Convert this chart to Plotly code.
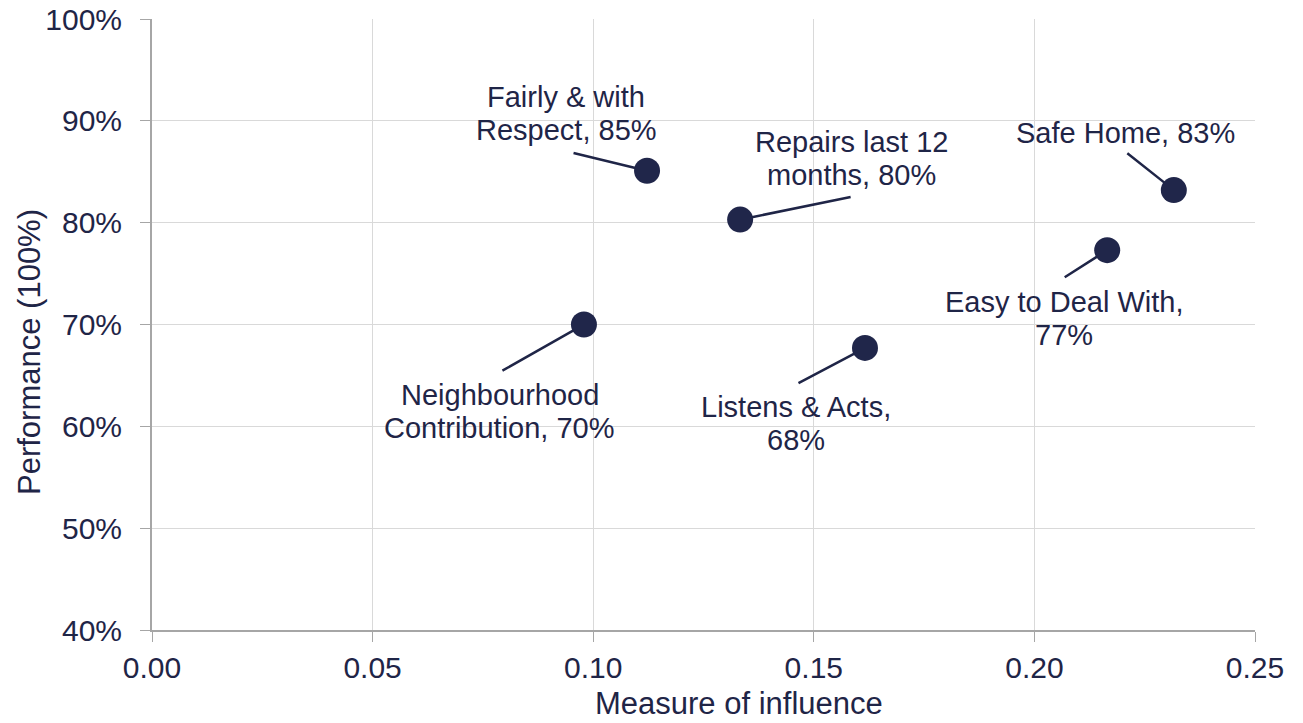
import plotly.graph_objects as go

# Data
labels = [
    ["Fairly & with", "Respect, 85%"],
    ["Repairs last 12", "months, 80%"],
    ["Safe Home, 83%"],
    ["Easy to Deal With,", "77%"],
    ["Neighbourhood", "Contribution, 70%"],
    ["Listens & Acts,", "68%"],
]
influence = [0.1122, 0.1333, 0.2316, 0.2165, 0.0979, 0.1616]
performance = [0.851, 0.803, 0.832, 0.773, 0.700, 0.677]

x_ticks = [0.00, 0.05, 0.10, 0.15, 0.20, 0.25]
y_ticks = [0.4, 0.5, 0.6, 0.7, 0.8, 0.9, 1.0]

# Label placement (pixel offsets from point): leader tail and text centre
leader_tail = [(-75, -18), (112, -23), (-48, -38), (-44, 28), (-83, 47), (-68, 36)]
text_center = [(-81, 57), (111, 61), (-48, 57), (-43, -68), (-84, -87), (-69, -76)]

NAVY = "#1F2547"
FONT = "Liberation Sans, Arial, sans-serif"
LINE_H = 33

fig = go.Figure()
fig.add_trace(go.Scatter(
    x=influence, y=performance, mode="markers",
    marker=dict(size=26, color="#20264A", line=dict(width=0)),
    hoverinfo="skip", showlegend=False,
))

annotations = []
for xv, yv, lab, (tx, ty), (cx, cy) in zip(influence, performance, labels, leader_tail, text_center):
    annotations.append(dict(
        x=xv, y=yv, xref="x", yref="y", text=" ", font=dict(size=1),
        showarrow=True, arrowhead=0, arrowwidth=2.5, arrowcolor=NAVY,
        ax=tx, ay=ty, standoff=12,
    ))
    n = len(lab)
    for i, line in enumerate(lab):
        annotations.append(dict(
            x=xv, y=yv, xref="x", yref="y", text=line, showarrow=False,
            xanchor="center", yanchor="middle",
            xshift=cx, yshift=cy + (n - 1) / 2 * LINE_H - i * LINE_H,
            font=dict(size=29, color=NAVY, family=FONT),
        ))

# axis titles
annotations.append(dict(
    text="Measure of influence", xref="paper", yref="paper",
    x=0.532, y=-0.121, xanchor="center", yanchor="middle", showarrow=False,
    font=dict(size=31, color=NAVY, family=FONT),
))
annotations.append(dict(
    text="Performance (100%)", xref="paper", yref="paper",
    x=-0.1106, y=0.455, xanchor="center", yanchor="middle", showarrow=False,
    textangle=-90, font=dict(size=31, color=NAVY, family=FONT),
))

fig.update_layout(
    width=1303, height=723,
    margin=dict(l=152, r=48, t=19, b=93),
    plot_bgcolor="white", paper_bgcolor="white",
    font=dict(family=FONT, color=NAVY, size=29),
    annotations=annotations,
    xaxis=dict(
        range=[0, 0.25], tickvals=x_ticks, tickformat=".2f",
        showgrid=True, gridcolor="#D9D9D9", gridwidth=1,
        showline=True, linecolor="#A6A6A6", linewidth=2,
        ticks="outside", ticklen=10, tickcolor="#A6A6A6", tickwidth=1,
        tickfont=dict(size=30, color=NAVY), zeroline=False,
        ticklabelstandoff=0, automargin=False,
    ),
    yaxis=dict(
        range=[0.4, 1.0], tickvals=y_ticks, tickformat=".0%",
        showgrid=True, gridcolor="#D9D9D9", gridwidth=1,
        showline=True, linecolor="#A6A6A6", linewidth=2,
        ticks="outside", ticklen=10, tickcolor="#A6A6A6", tickwidth=1,
        tickfont=dict(size=30, color=NAVY), zeroline=False,
        ticklabelstandoff=12, automargin=False,
    ),
)

fig.write_html("out.html", config={"displayModeBar": False},
               post_script="document.body.style.margin='0px';")
